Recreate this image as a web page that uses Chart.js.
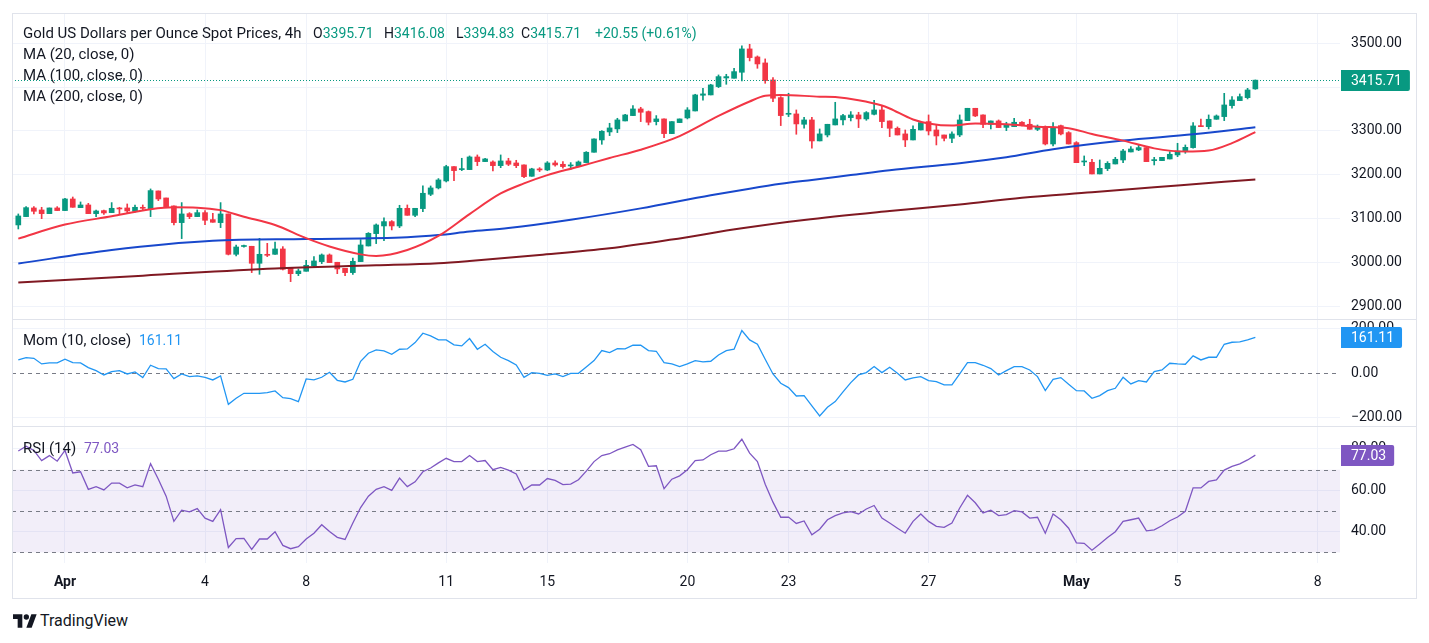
<!DOCTYPE html>
<html>
<head>
<meta charset="utf-8">
<script src="https://cdn.jsdelivr.net/npm/chart.js@4.4.1/dist/chart.umd.min.js"></script>
<style>
html,body{margin:0;padding:0;background:#fff;width:1429px;height:643px;overflow:hidden;font-family:Roboto,"Liberation Sans",sans-serif;}
canvas{position:absolute;left:12px;}
#frame{position:absolute;left:12px;top:13px;width:1405px;height:586px;border:1px solid #e0e3eb;box-sizing:border-box;z-index:2;pointer-events:none}
.sep{position:absolute;left:12px;width:1405px;height:1px;background:#e0e3eb;z-index:2}
.t{position:absolute;font-size:14px;line-height:16px;color:#131722;white-space:nowrap;z-index:3}
.w{font-size:15px}
.g{color:#089981}
</style>
</head>
<body>
<canvas id="cPrice" width="1404" height="306" style="top:13px"></canvas>
<canvas id="cMom" width="1404" height="107" style="top:319px"></canvas>
<canvas id="cRsi" width="1404" height="172" style="top:426px"></canvas>
<div id="frame"></div>
<div class="sep" style="top:319px"></div>
<div class="sep" style="top:426px"></div>

<div class="t w" style="left:23px;top:25px">Gold US Dollars per Ounce Spot Prices, 4h</div>
<div class="t" style="left:313px;top:25px">O<span class="g">3395.71</span></div>
<div class="t" style="left:384px;top:25px">H<span class="g">3416.08</span></div>
<div class="t" style="left:456px;top:25px">L<span class="g">3394.83</span></div>
<div class="t" style="left:521px;top:25px">C<span class="g">3415.71</span></div>
<div class="t g" style="left:595px;top:25px">+20.55 (+0.61%)</div>
<div class="t w" style="left:23px;top:46px">MA (20, close, 0)</div>
<div class="t w" style="left:23px;top:67px">MA (100, close, 0)</div>
<div class="t w" style="left:23px;top:88px">MA (200, close, 0)</div>
<div class="t w" style="left:23px;top:332px">Mom (10, close)</div>
<div class="t" style="left:139px;top:332px;color:#2196F3">161.11</div>
<div class="t w" style="left:23px;top:440px">RSI (14)</div>
<div class="t" style="left:84px;top:440px;color:#7E57C2">77.03</div>

<svg style="position:absolute;left:13px;top:613px" width="24" height="16" viewBox="0 0 36 24">
  <path d="M14 22H7V9H0V2h14v20zM28 22h-8l7.5-20h8L28 22z" fill="#131722"/>
  <circle cx="20" cy="6" r="4" fill="#131722"/>
</svg>
<div class="t" style="left:40px;top:611px;font-size:16px;line-height:19px">TradingView</div>

<script>
// ---------------- data ----------------
const xTickIdx    = [6, 24, 37, 55, 68, 86, 99, 117, 136, 149, 167];
const xTickLabels = ['Apr','4','8','11','15','20','23','27','May','5','8'];

const opens = [3085.2,3104.2,3124.0,3119.4,3111.0,3124.0,3118.0,3144.5,3124.7,3130.8,
3111.0,3117.9,3113.3,3124.0,3124.0,3116.4,3125.5,3121.7,3162.8,3146.8,
3128.6,3090.5,3111.0,3104.2,3113.3,3097.4,3090.5,3110.3,3018.2,3036.0,
3036.5,2997.7,3018.2,3018.2,3030.4,2986.3,2974.0,2979.4,2991.6,3001.5,
3016.7,3000.0,2986.3,2976.4,3001.5,3037.2,3065.4,3082.9,3092.8,3082.9,
3123.2,3107.2,3122.5,3155.2,3169.7,3185.6,3218.4,3211.5,3211.5,3240.4,
3229.8,3229.0,3220.6,3231.3,3226.7,3222.2,3196.3,3213.1,3210.7,3226.7,
3223.7,3219.9,3218.4,3227.5,3251.1,3279.2,3297.5,3304.4,3322.6,3334.8,
3350.0,3343.9,3321.1,3327.2,3293.7,3318.8,3329.5,3345.4,3381.2,3382.0,
3401.0,3420.7,3420.0,3433.7,3487.0,3468.7,3455.0,3416.2,3375.9,3337.8,
3338.6,3315.0,3324.9,3277.0,3290.6,3313.5,3325.0,3330.2,3336.3,3327.2,
3337.8,3347.7,3322.6,3305.9,3293.0,3279.2,3302.0,3321.1,3302.0,3290.6,
3283.0,3290.6,3323.3,3351.5,3336.3,3315.0,3322.6,3307.9,3309.6,3319.6,
3315.0,3303.5,3307.3,3270.0,3311.9,3295.9,3273.1,3229.0,3228.2,3201.6,
3213.8,3224.4,3233.5,3251.8,3256.4,3261.7,3232.0,3232.0,3235.8,3245.0,
3252.6,3261.7,3311.2,3309.6,3326.4,3332.5,3357.6,3369.0,3375.8,3395.71];

const highs = [3110.3,3127.0,3127.0,3125.5,3124.0,3127.0,3146.0,3149.0,3137.7,3134.6,
3119.4,3119.4,3136.2,3125.5,3133.1,3130.8,3130.8,3167.4,3162.8,3146.8,
3128.6,3136.2,3113.3,3119.4,3117.9,3111.8,3136.2,3110.3,3039.5,3039.5,
3036.5,3054.7,3043.3,3046.3,3035.7,2986.3,2984.7,3004.5,3012.9,3019.0,
3019.0,3000.0,2986.3,3009.8,3051.7,3067.7,3087.5,3101.2,3095.1,3130.1,
3130.8,3123.2,3174.2,3174.2,3191.0,3221.4,3218.4,3237.4,3242.7,3245.0,
3237.4,3231.3,3245.0,3237.4,3232.8,3222.2,3214.6,3216.0,3229.8,3231.3,
3229.8,3227.5,3231.3,3252.6,3281.5,3300.5,3317.3,3328.7,3337.8,3357.6,
3353.8,3345.4,3334.8,3327.2,3321.1,3327.2,3353.0,3383.5,3397.2,3406.3,
3427.6,3429.1,3442.8,3493.8,3497.6,3471.0,3464.2,3421.5,3378.2,3385.8,
3347.7,3331.0,3331.0,3304.3,3315.0,3365.2,3337.8,3343.9,3342.4,3343.9,
3369.8,3357.6,3322.6,3309.0,3302.0,3311.2,3321.1,3336.3,3313.4,3290.6,
3297.5,3336.3,3351.5,3351.5,3336.3,3322.6,3324.9,3319.6,3328.7,3321.1,
3326.4,3313.4,3311.2,3318.8,3313.4,3298.2,3275.4,3242.7,3235.1,3233.5,
3229.7,3239.6,3257.9,3264.0,3267.8,3264.0,3239.6,3239.6,3252.6,3271.6,
3267.8,3318.8,3327.1,3336.3,3336.3,3385.7,3378.1,3384.2,3397.1,3416.08];

const lows = [3076.0,3104.0,3110.3,3099.6,3111.0,3118.0,3118.0,3125.5,3124.7,3111.0,
3104.2,3109.5,3113.3,3111.0,3111.8,3114.1,3119.4,3104.2,3140.7,3127.0,
3085.2,3054.0,3099.6,3104.2,3086.0,3091.3,3079.1,3016.7,3014.4,3034.2,
2976.4,2972.5,3012.9,3018.2,2982.4,2955.8,2969.5,2979.4,2990.0,2996.9,
2999.2,2974.0,2969.5,2972.5,3001.5,3037.2,3042.6,3049.4,3073.8,3079.1,
3107.2,3104.2,3115.6,3152.1,3167.4,3183.3,3186.4,3209.2,3211.5,3220.6,
3229.8,3208.5,3216.0,3220.6,3216.0,3193.2,3196.3,3207.0,3209.2,3219.1,
3214.6,3212.2,3218.4,3227.5,3251.1,3269.3,3289.1,3296.0,3322.6,3334.8,
3321.1,3313.5,3313.5,3284.6,3293.7,3318.8,3327.2,3345.4,3369.8,3382.0,
3398.7,3406.3,3420.0,3413.9,3459.6,3442.8,3408.6,3366.7,3312.0,3332.5,
3292.2,3305.9,3260.2,3277.0,3286.1,3313.5,3313.5,3322.6,3307.4,3324.1,
3336.3,3307.4,3286.8,3290.6,3264.0,3279.2,3302.0,3290.6,3267.8,3276.9,
3273.1,3286.8,3323.3,3332.5,3307.4,3304.3,3307.4,3300.5,3309.6,3311.2,
3303.5,3300.5,3267.8,3265.5,3290.6,3270.0,3227.4,3220.6,3201.6,3201.6,
3209.2,3224.4,3227.4,3251.8,3254.8,3229.7,3222.1,3232.0,3235.8,3241.1,
3248.8,3260.2,3309.6,3304.3,3326.4,3323.3,3351.5,3369.0,3372.8,3394.83];

const closes = [3105.7,3124.7,3116.4,3111.0,3124.0,3118.0,3144.5,3125.5,3130.8,3111.0,
3117.1,3112.6,3123.2,3121.7,3117.1,3125.5,3123.2,3163.6,3144.5,3127.0,
3090.5,3110.3,3104.2,3113.3,3095.8,3091.3,3110.3,3018.2,3034.9,3037.5,
2997.7,3018.2,3015.9,3030.4,2984.0,2974.0,2980.2,2993.1,3003.0,3016.7,
2999.2,2984.7,2976.4,3002.2,3039.5,3066.1,3085.2,3092.8,3082.9,3123.2,
3107.2,3123.2,3157.5,3169.7,3187.9,3218.4,3209.2,3213.5,3240.4,3229.8,
3235.9,3220.6,3231.3,3223.7,3220.6,3195.5,3213.1,3210.7,3226.7,3222.2,
3218.4,3222.2,3229.0,3251.1,3281.5,3299.0,3306.6,3324.9,3336.3,3350.0,
3342.4,3319.6,3327.2,3293.7,3321.1,3327.2,3347.7,3382.0,3384.3,3404.8,
3423.8,3423.8,3435.2,3487.0,3467.2,3452.7,3414.7,3374.4,3334.8,3338.6,
3315.8,3324.9,3276.9,3293.0,3315.0,3327.2,3334.8,3336.3,3327.2,3341.6,
3347.7,3321.1,3305.9,3290.6,3279.2,3303.5,3318.8,3299.7,3288.3,3283.0,
3292.9,3324.9,3351.5,3334.0,3315.0,3322.6,3307.4,3313.4,3319.6,3313.4,
3303.5,3308.1,3270.0,3308.1,3292.9,3270.0,3227.4,3230.5,3201.6,3214.5,
3225.9,3235.1,3254.0,3258.6,3261.7,3229.7,3233.5,3239.6,3246.5,3254.0,
3262.4,3311.2,3309.6,3326.4,3334.0,3359.1,3370.5,3378.1,3393.3,3415.71];

// moving averages: [bar index, value]
const ma20 = [[0,3054],[6,3086],[12,3105],[17,3121],[20,3125.5],[23,3124.7],[26,3119],[29,3104],
[33,3085],[37,3055],[40,3036],[44,3018],[46,3014.5],[50,3028],[54,3060],[58,3110],[62,3157],
[65,3180],[68,3199],[72,3218],[76,3238],[80,3257],[85,3288],[90,3334],[94,3367],[96,3380],
[98,3382],[103,3378],[105,3377],[108,3370],[111,3358],[112,3351],[115,3326],[117,3317],
[120,3312],[123,3317],[127,3315],[131,3309.6],[135,3306],[138,3293],[142,3277.7],[146,3260],
[150,3252.6],[153,3255],[156,3272],[159,3297]];
const ma100 = [[0,2997],[12,3028],[25,3049],[37,3053],[50,3057],[54,3062],[58,3070],[63,3078],
[71,3097],[80,3123],[89,3153],[94,3168],[98,3179],[102,3188],[107,3199],[112,3210],[121,3226],
[127,3239.6],[133,3258],[142,3277.7],[151,3292],[159,3308]];
const ma200 = [[0,2954],[16,2969.5],[33,2986],[46,2993],[54,2998],[58,3003],[67,3016.7],[76,3032],
[84,3052],[93,3077.6],[101,3096.6],[112,3117],[121,3132],[129,3147.5],[138,3159.7],[146,3171],
[155,3184],[159,3189]];

const momentum = [60,70.5,67.5,42,46.5,46.5,63,48,46.5,25.5,
12,-7.5,7.5,12,-3,6,-19.5,36,21,19.5,
-24,-3,-15,-12,-18,-30,-12,-139.5,-112.5,-90,
-90,-90,-87,-79.5,-109.5,-114,-127.5,-25.5,-30,-18,
4.5,-31.5,-39,-27,54,90,105,100.5,85.5,108,
109.5,138,180,168,150,150,127.5,123,156,108,
130.5,97.5,72,57,37.5,-18,3,0,-9,-3,
-15,0,0,28.5,57,102,93,111,109.5,126,
126,102,99,48,42,30,42,57,51,54,
82.5,102,108,192,150,130.5,63,-3,-45,-64.5,
-102,-100.5,-147,-192,-153,-127.5,-84,-42,-7.5,3,
30,3,27,0,-30,-21,-15,-33,-37.5,-52.5,
-52.5,-3,48,48,36,21,-7.5,12,30,30,
15,-15,-78,-27,-19.5,-49.5,-78,-79.5,-112.5,-100.5,
-78,-67.5,-18,-48,-33,-39,7.5,15,45,42,
40.5,78,60,72,72,130.5,139.5,141,150,161.11];

const rsi = [79,81.3,79.3,74.4,76.8,74.1,79.3,68.4,69.0,60.5,
61.8,60.2,63.5,63.5,61.2,62.6,61.8,72.9,65.4,57.2,
45.0,50.4,49.6,51.2,46.6,45.0,50.7,32.4,36.7,36.8,
31.5,36.5,36.5,40.0,33.4,31.8,32.8,36.5,39.3,43.4,
40.1,37.3,36.3,44.2,51.7,57.2,60.5,61.8,60.0,65.9,
61.8,64.1,69.0,70.8,73.3,75.5,73.9,73.9,76.8,73.9,
74.4,70.0,71.1,69.8,67.9,60.2,62.6,62.6,65.7,64.8,
62.8,63.0,65.1,69.3,73.9,76.8,77.7,79.6,80.9,82.2,
79.6,71.6,71.9,60.8,65.4,67.0,70.0,74.4,74.7,77.2,
79.0,79.0,80.1,84.7,78.0,73.9,63.0,54.3,47.0,47.1,
44.0,45.2,38.5,41.2,45.8,47.8,49.1,49.7,48.6,51.0,
52.7,46.6,44.2,41.7,39.3,45.0,48.6,45.0,42.6,42.1,
44.2,51.5,57.6,54.0,49.1,50.4,47.8,48.3,50.2,49.6,
46.6,47.0,39.3,48.6,45.8,41.7,34.6,34.4,31.1,34.1,
37.2,40.0,45.0,45.8,46.6,40.4,40.9,42.9,45.3,47.1,
49.9,61.2,61.2,64.3,65.1,69.8,71.6,72.8,74.7,77.03];

const priceTicks = [2900, 3000, 3100, 3200, 3300, 3400, 3500];
const momTicks = [-200, 0, 200];
const rsiTicks = [40, 60, 80];
const momLevels = [0];
const rsiLevels = [70, 50, 30];
const rsiBand = [70, 30];

// ---------------- styles ----------------
const UP = '#089981', DOWN = '#F23645';
const GRID = '#f0f3fa';
const FONT = 'Roboto';
const XMIN = -0.81, XMAX = 169.88;

const idx = closes.map((_, i) => i);
const candleColor = idx.map(i => closes[i] >= opens[i] ? UP : DOWN);
const fmt2 = v => (v < 0 ? '\u2212' : '') + Math.abs(v).toFixed(2);

function xScale(showLabels) {
  return {
    type: 'linear', min: XMIN, max: XMAX, offset: false,
    grid: { color: GRID, drawTicks: false, offset: false },
    border: { display: false },
    afterBuildTicks: s => { s.ticks = xTickIdx.map(v => ({ value: v })); },
    afterFit: s => { s.height = showLabels ? 35 : 0; s.paddingLeft = 0; s.paddingRight = 0; s.paddingTop = 0; s.paddingBottom = 0; },
    ticks: {
      display: showLabels, autoSkip: false, maxRotation: 0, minRotation: 0, padding: 11,
      color: '#131722',
      font: ctx => ({ family: FONT, size: 14, weight: /[A-Za-z]/.test(xTickLabels[ctx.index] || '') ? 'bold' : 'normal' }),
      callback: (v, i) => xTickLabels[i]
    }
  };
}
function yScale(min, max, ticks, gridColor) {
  return {
    position: 'right', min, max,
    grid: { color: gridColor || GRID, drawTicks: false },
    border: { display: false },
    afterBuildTicks: s => { s.ticks = ticks.map(v => ({ value: v })); },
    afterFit: s => { s.width = 76; s.paddingTop = 0; s.paddingBottom = 0; s.paddingLeft = 0; s.paddingRight = 0; },
    ticks: { padding: 11, color: '#131722', font: { family: FONT, size: 14 }, callback: v => fmt2(v) }
  };
}
function drawBox(chart, value, text, color) {
  const { ctx, chartArea: a, scales: { y } } = chart;
  const py = y.getPixelForValue(value);
  ctx.save();
  ctx.font = '14px ' + FONT;
  const w = ctx.measureText(text).width + 18, h = 21;
  ctx.fillStyle = color;
  ctx.beginPath();
  ctx.roundRect(a.right + 1, Math.round(py - h / 2), w, h, [0, 2, 2, 0]);
  ctx.fill();
  ctx.fillStyle = '#ffffff';
  ctx.textBaseline = 'middle';
  ctx.fillText(text, a.right + 11, py + 1);
  ctx.restore();
}
function drawLevels(chart, levels) {
  const { ctx, chartArea: a, scales: { y } } = chart;
  ctx.save();
  ctx.strokeStyle = '#787B86';
  ctx.lineWidth = 1;
  ctx.setLineDash([4, 4]);
  levels.forEach(v => {
    const py = Math.round(y.getPixelForValue(v)) + 0.5;
    ctx.beginPath(); ctx.moveTo(a.left, py); ctx.lineTo(a.right, py); ctx.stroke();
  });
  ctx.restore();
}
const base = {
  responsive: false, animation: false, events: [],
  layout: { padding: 0 },
  plugins: { legend: { display: false }, tooltip: { enabled: false } }
};

// ---------------- price pane ----------------
const lastPrice = closes[closes.length - 1];
new Chart(document.getElementById('cPrice'), {
  type: 'line',
  data: {
    datasets: [
      { type: 'line', data: ma20.map(([x, y]) => ({ x, y })), borderColor: '#F23645', borderWidth: 2,
        pointRadius: 0, cubicInterpolationMode: 'monotone', order: 1 },
      { type: 'line', data: ma100.map(([x, y]) => ({ x, y })), borderColor: '#1848CC', borderWidth: 2,
        pointRadius: 0, cubicInterpolationMode: 'monotone', order: 1 },
      { type: 'line', data: ma200.map(([x, y]) => ({ x, y })), borderColor: '#801922', borderWidth: 2,
        pointRadius: 0, cubicInterpolationMode: 'monotone', order: 1 },
      { type: 'bar', data: idx.map(i => ({ x: i, y: [opens[i], closes[i]] })), backgroundColor: candleColor,
        barThickness: 5, minBarLength: 1, grouped: false, order: 2 },
      { type: 'bar', data: idx.map(i => ({ x: i, y: [lows[i], highs[i]] })), backgroundColor: candleColor,
        barThickness: 1, minBarLength: 1, grouped: false, order: 3 }
    ]
  },
  options: Object.assign({}, base, {
    scales: { x: xScale(false), y: yScale(2870.5, 3569, priceTicks) }
  }),
  plugins: [{
    id: 'lastPrice',
    afterDatasetsDraw(chart) {
      const { ctx, chartArea: a, scales: { y } } = chart;
      const py = Math.round(y.getPixelForValue(lastPrice)) + 0.5;
      ctx.save(); ctx.strokeStyle = UP; ctx.lineWidth = 1; ctx.setLineDash([1, 2]);
      ctx.beginPath(); ctx.moveTo(a.left, py); ctx.lineTo(a.right, py); ctx.stroke(); ctx.restore();
    },
    afterDraw(chart) { drawBox(chart, lastPrice, lastPrice.toFixed(2), UP); }
  }]
});

// ---------------- momentum pane ----------------
const lastMom = momentum[momentum.length - 1];
new Chart(document.getElementById('cMom'), {
  type: 'line',
  data: { datasets: [{ data: idx.map(i => ({ x: i, y: momentum[i] })), borderColor: '#2196F3',
    borderWidth: 1.3, pointRadius: 0, tension: 0 }] },
  options: Object.assign({}, base, {
    scales: { x: xScale(false), y: yScale(-237, 244, momTicks, c => c.tick && c.tick.value === 0 ? 'rgba(0,0,0,0)' : GRID) }
  }),
  plugins: [{
    id: 'momLevels',
    beforeDatasetsDraw(chart) { drawLevels(chart, momLevels); },
    afterDraw(chart) { drawBox(chart, lastMom, lastMom.toFixed(2), '#2196F3'); }
  }]
});

// ---------------- RSI pane ----------------
const lastRsi = rsi[rsi.length - 1];
new Chart(document.getElementById('cRsi'), {
  type: 'line',
  data: { datasets: [{ data: idx.map(i => ({ x: i, y: rsi[i] })), borderColor: '#7E57C2',
    borderWidth: 1.3, pointRadius: 0, tension: 0 }] },
  options: Object.assign({}, base, {
    scales: { x: xScale(true), y: yScale(24.9, 91.1, rsiTicks) }
  }),
  plugins: [{
    id: 'rsiLevels',
    beforeDatasetsDraw(chart) {
      const { ctx, chartArea: a, scales: { y } } = chart;
      const y1 = y.getPixelForValue(rsiBand[0]), y2 = y.getPixelForValue(rsiBand[1]);
      ctx.save(); ctx.fillStyle = 'rgba(126,87,194,0.1)';
      ctx.fillRect(a.left, y1, a.right - a.left, y2 - y1); ctx.restore();
      drawLevels(chart, rsiLevels);
    },
    afterDraw(chart) { drawBox(chart, lastRsi, lastRsi.toFixed(2), '#7E57C2'); }
  }]
});
</script>
</body>
</html>
